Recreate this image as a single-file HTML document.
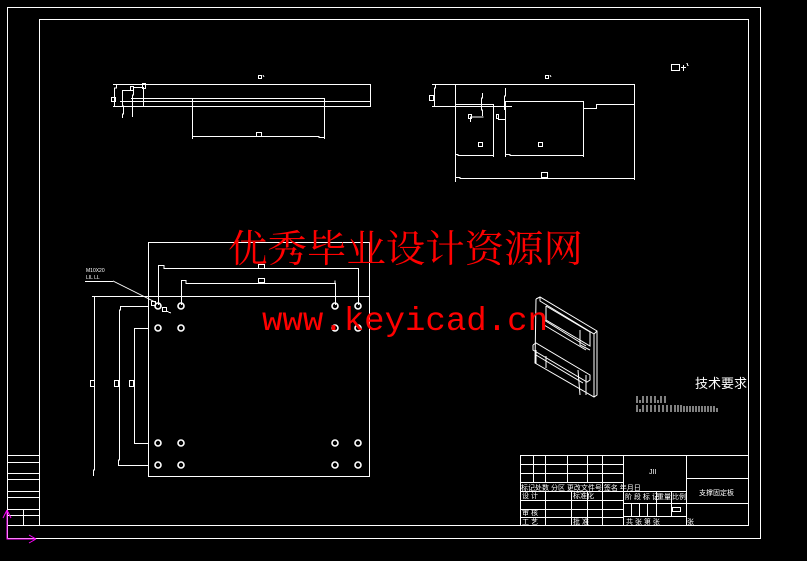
<!DOCTYPE html>
<html><head><meta charset="utf-8"><style>
html,body{margin:0;padding:0;background:#000;}
svg{display:block;}
text{font-family:"Liberation Sans","Noto Sans CJK SC",sans-serif;fill:#fff;}
</style></head><body>
<svg width="807" height="561" viewBox="0 0 807 561" xmlns="http://www.w3.org/2000/svg">
<rect x="0" y="0" width="807" height="561" fill="#000"/>
<g stroke="#fff" stroke-width="1" fill="none" shape-rendering="crispEdges">
<rect x="7.5" y="7.5" width="753" height="531"/>
<rect x="39.5" y="19.5" width="709" height="506"/>
<line x1="7" y1="455.5" x2="39" y2="455.5"/><line x1="7" y1="462.5" x2="39" y2="462.5"/>
<line x1="7" y1="473.5" x2="39" y2="473.5"/><line x1="7" y1="479.5" x2="39" y2="479.5"/>
<line x1="7" y1="491.5" x2="39" y2="491.5"/><line x1="7" y1="497.5" x2="39" y2="497.5"/>
<line x1="7" y1="509.5" x2="39" y2="509.5"/><line x1="7" y1="515.5" x2="39" y2="515.5"/>
<line x1="23.5" y1="509" x2="23.5" y2="526"/>
<line x1="7" y1="525.5" x2="39" y2="525.5"/>

<polyline points="113,84.5 370.5,84.5 370.5,106.5 113,106.5"/>
<line x1="120" y1="101.5" x2="370" y2="101.5"/>
<polyline points="131,98.5 324.5,98.5 324.5,139"/>
<polyline points="192.5,98 192.5,139"/>
<polyline points="192,136.5 319,136.5 319,137.5 324,137.5"/>
<polyline points="116.5,84 116.5,88 114.5,88 114.5,106"/>
<polyline points="122.5,90.5 133.5,90.5"/><polyline points="122.5,90 122.5,106 123.5,106 123.5,114 122.5,114 122.5,118"/>
<polyline points="133.5,87.5 143.5,87.5 143.5,106"/><polyline points="133.5,87 133.5,95 132.5,95 132.5,117"/>
<rect x="111.5" y="97.5" width="4" height="4"/><rect x="130.5" y="86.5" width="3" height="4"/>
<rect x="142.5" y="83.5" width="3" height="5"/><rect x="256.5" y="132.5" width="5" height="4"/>
<rect x="258.5" y="75.5" width="3" height="3"/><line x1="263" y1="75" x2="264" y2="77"/>

<polyline points="432,84.5 634.5,84.5 634.5,180"/>
<polyline points="432,106.5 455,106.5"/>
<polyline points="435.5,84 435.5,88 434.5,88 434.5,106"/>
<rect x="429.5" y="95.5" width="4" height="5"/>
<line x1="455.5" y1="84" x2="455.5" y2="182"/>
<polyline points="455,104.5 493.5,104.5 493.5,157"/>
<polyline points="455,154.5 458,154.5 458,155.5 493,155.5"/>
<polyline points="505.5,101.5 583.5,101.5 583.5,157"/>
<line x1="505.5" y1="101" x2="505.5" y2="157"/>
<polyline points="505,154.5 510,154.5 510,155.5 583,155.5"/>
<polyline points="583,108.5 596.5,108.5 596.5,104.5 634,104.5"/>
<polyline points="455,106.5 512,106.5"/>
<polyline points="455,177.5 460,177.5 460,178.5 634,178.5"/>
<polyline points="482.5,93 482.5,98 481.5,98 481.5,110 482.5,110 482.5,116"/>
<polyline points="470.5,122 470.5,117 483.5,117"/>
<polyline points="505.5,88 505.5,96 504.5,96 504.5,110"/>
<polyline points="498,119.5 505,119.5"/>
<rect x="468.5" y="114.5" width="3" height="4"/><rect x="496.5" y="114.5" width="2" height="4"/>
<rect x="478.5" y="142.5" width="4" height="4"/><rect x="538.5" y="142.5" width="4" height="4"/>
<rect x="541.5" y="172.5" width="6" height="5"/>
<rect x="545.5" y="75.5" width="3" height="3"/><line x1="550" y1="75" x2="551" y2="77"/>
<rect x="671.5" y="64.5" width="8" height="6"/><line x1="683.5" y1="65" x2="683.5" y2="71"/><line x1="681" y1="67.5" x2="686" y2="67.5"/><line x1="687" y1="63" x2="688" y2="66"/>

<rect x="148.5" y="242.5" width="221" height="234"/>
<line x1="92" y1="296.5" x2="369" y2="296.5"/>
<polyline points="94.5,296 94.5,470 93.5,470 93.5,476"/>
<polyline points="158.5,305 158.5,265.5 164,265.5 164,268.5 358.5,268.5 358.5,305"/>
<polyline points="181.5,305 181.5,280.5 186,280.5 186,283.5 335.5,283.5 335.5,305"/>
<line x1="335" y1="280.5" x2="335" y2="283"/>
<polyline points="148,306.5 120.5,306.5 120.5,310 119.5,310 119.5,460 118.5,460 118.5,465.5 148,465.5"/>
<polyline points="148,328.5 134.5,328.5 134.5,443.5 148,443.5"/>
<rect x="90.5" y="380.5" width="4" height="6"/><rect x="114.5" y="380.5" width="4" height="6"/><rect x="129.5" y="380.5" width="4" height="6"/>
<rect x="258.5" y="264.5" width="6" height="4"/><rect x="258.5" y="278.5" width="6" height="4"/>
<line x1="85" y1="281.5" x2="113" y2="281.5"/>
<line x1="113" y1="281" x2="155" y2="302"/>
<rect x="151.5" y="301.5" width="4" height="4"/><rect x="162.5" y="307.5" width="4" height="4"/>
<line x1="166" y1="311" x2="171" y2="313"/>
</g>
<g stroke="#fff" stroke-width="1.6" fill="none">
<circle cx="158" cy="306" r="3"/><circle cx="181" cy="306" r="3"/><circle cx="335" cy="306" r="3"/><circle cx="358" cy="306" r="3"/>
<circle cx="158" cy="328" r="3"/><circle cx="181" cy="328" r="3"/><circle cx="335" cy="328" r="3"/><circle cx="358" cy="328" r="3"/>
<circle cx="158" cy="443" r="3"/><circle cx="181" cy="443" r="3"/><circle cx="335" cy="443" r="3"/><circle cx="358" cy="443" r="3"/>
<circle cx="158" cy="465" r="3"/><circle cx="181" cy="465" r="3"/><circle cx="335" cy="465" r="3"/><circle cx="358" cy="465" r="3"/>
</g>
<text x="86" y="272" font-size="5">M10X20</text>
<text x="86" y="279" font-size="5">LIL LL</text>

<g stroke="#fff" stroke-width="1" fill="none">
<polyline points="536,299 540,297 597,331 597,395 594,397 535,363 536,299"/>
<polyline points="540,297 540,301 594,334 597,331"/>
<line x1="594" y1="334" x2="594" y2="397"/>
<polyline points="546,306 590,332"/>
<polyline points="546,306 546,320 590,346 590,332"/>
<polyline points="544,320 586,346"/><polyline points="544,325 586,350"/>
<polyline points="533,345 536,343 590,375 590,380 587,382 533,350 533,345"/>
<polyline points="536,350 536,364"/><polyline points="546,356 546,368"/>
<polyline points="586,375 586,395"/><polyline points="578,370 580,395"/>
<polyline points="536,355 583,383"/>
<polyline points="580,330 580,345 590,350"/>
</g>

<text x="695" y="388" font-size="13">技术要求</text>
<g stroke="#fff" stroke-width="1">
<path d="M637 396v7M640 400v3M643 396v7M647 396v7M651 396v7M655 396v7M658 400v3M661 396v7M665 396v7"/>
<path d="M637 405v7M640 409v3M643 405v7M647 405v7M651 405v7M655 405v7M659 405v7M663 405v7M667 405v7M671 405v7M675 405v7M678 405v7M681 405v7M684 406v6M687 406v6M690 406v6M693 406v6M696 406v6M699 406v6M702 406v6M705 406v6M708 406v6M711 406v6M714 406v6M717 408v4"/>
</g>

<g stroke="#fff" stroke-width="1" fill="none" shape-rendering="crispEdges">
<rect x="520.5" y="455.5" width="228" height="70"/>
<line x1="520" y1="464.5" x2="623" y2="464.5"/><line x1="520" y1="473.5" x2="623" y2="473.5"/>
<line x1="520" y1="482.5" x2="623" y2="482.5"/><line x1="520" y1="491.5" x2="686" y2="491.5"/>
<line x1="520" y1="500.5" x2="623" y2="500.5"/><line x1="520" y1="509.5" x2="623" y2="509.5"/>
<line x1="520" y1="517.5" x2="623" y2="517.5"/>
<line x1="533.5" y1="455" x2="533.5" y2="482"/><line x1="545.5" y1="455" x2="545.5" y2="482"/>
<line x1="567.5" y1="455" x2="567.5" y2="482"/><line x1="587.5" y1="455" x2="587.5" y2="482"/>
<line x1="602.5" y1="455" x2="602.5" y2="526"/>
<line x1="545.5" y1="491" x2="545.5" y2="526"/><line x1="571.5" y1="491" x2="571.5" y2="526"/>
<line x1="587.5" y1="491" x2="587.5" y2="526"/>
<line x1="623.5" y1="455" x2="623.5" y2="526"/><line x1="686.5" y1="455" x2="686.5" y2="526"/>
<line x1="686" y1="478.5" x2="748" y2="478.5"/><line x1="686" y1="503.5" x2="748" y2="503.5"/>
<line x1="623" y1="503.5" x2="686" y2="503.5"/><line x1="623" y1="516.5" x2="686" y2="516.5"/>
<line x1="631.5" y1="503" x2="631.5" y2="516"/><line x1="639.5" y1="503" x2="639.5" y2="516"/>
<line x1="647.5" y1="503" x2="647.5" y2="516"/>
<line x1="656.5" y1="491" x2="656.5" y2="516"/><line x1="671.5" y1="491" x2="671.5" y2="516"/>
<rect x="672.5" y="507.5" width="8" height="4"/>
</g>
<g font-size="7">
<text x="521" y="490">标记处数 分区 更改文件号 签名 年月日</text>
<text x="522" y="498">设 计</text><text x="573" y="498">标准化</text>
<text x="522" y="515">审 核</text>
<text x="522" y="524">工 艺</text><text x="573" y="524">批 准</text>
<text x="625" y="499">阶 段 标 记</text><text x="657" y="499">重量</text><text x="672" y="499">比例</text>
<text x="626" y="524">共 张 第 张</text><text x="687" y="524">张</text>
<text x="649" y="474">JII</text>
<text x="699" y="495">支撑固定板</text>
</g>

<g stroke="#ff00ff" stroke-width="1" fill="none">
<polyline points="7,510 7,539 36,539"/>
<line x1="3" y1="518" x2="7" y2="510"/><line x1="11" y1="518" x2="7" y2="510"/>
<line x1="29" y1="535" x2="36" y2="539"/><line x1="29" y1="543" x2="36" y2="539"/>
</g>

<text x="228" y="262" font-size="38" textLength="355" lengthAdjust="spacingAndGlyphs" style="fill:#ff0000;font-family:'Noto Serif CJK SC','Liberation Serif',serif;">优秀毕业设计资源网</text>
<text x="262" y="330" font-size="33" style="fill:#ff0000;font-family:'Liberation Mono',monospace;" textLength="286" lengthAdjust="spacingAndGlyphs">www.keyicad.cn</text>
</svg>
</body></html>
